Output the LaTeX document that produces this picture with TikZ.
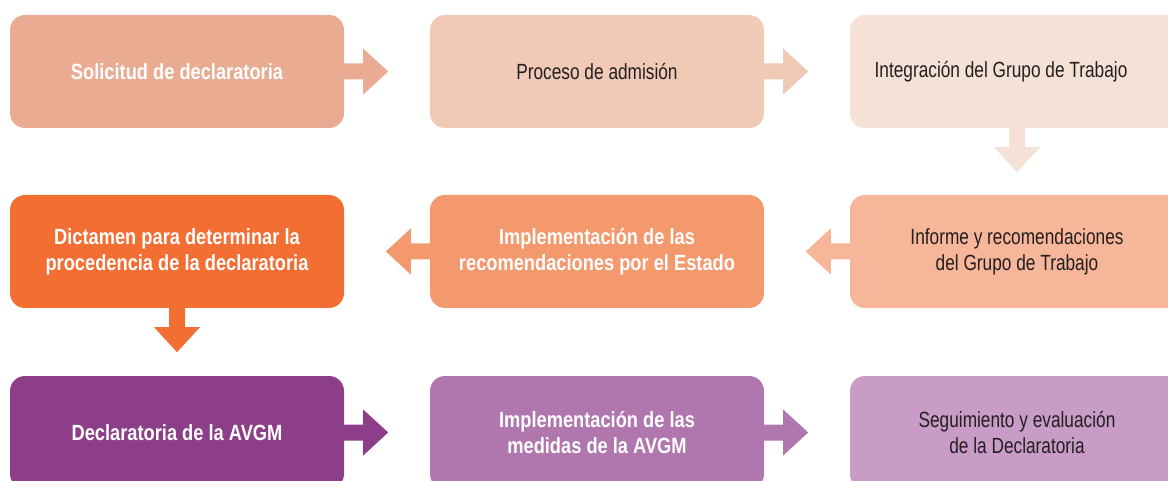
\documentclass[tikz,border=0pt]{standalone}
\usepackage{fontspec}
\setmainfont{Liberation Sans}[FakeStretch=0.785]
\newfontfamily\boldface{Liberation Sans Bold}[FakeStretch=0.83]
\definecolor{cA}{HTML}{E9AB92}
\definecolor{cB}{HTML}{F1C9B7}
\definecolor{cC}{HTML}{F6E1D7}
\definecolor{cD}{HTML}{F7B599}
\definecolor{cE}{HTML}{F4986E}
\definecolor{cF}{HTML}{F26E33}
\definecolor{cG}{HTML}{8D3E89}
\definecolor{cH}{HTML}{B077AE}
\definecolor{cI}{HTML}{C89CC7}
\definecolor{txt}{HTML}{231F20}
\begin{document}
\begin{tikzpicture}[x=1pt,y=-1pt,
  box/.style={rectangle,rounded corners=15pt,minimum width=334pt,minimum height=113pt,
    inner sep=0pt,align=center,font=\fontsize{22}{26}\selectfont},
  boldtxt/.style={text=white,font=\fontsize{22}{26}\selectfont\boldface},
  normtxt/.style={text=txt},
  flowarrow/.pic={\fill (0,-8) -- (19,-8) -- (19,-23) -- (44,0) -- (19,23) -- (19,8) -- (0,8) -- cycle;}
]
\useasboundingbox (0,0) rectangle (1168,481);
% row 1
\node[box,fill=cA,boldtxt] (b11) at (177,71.5) {Solicitud de declaratoria};
\node[box,fill=cB,normtxt] (b12) at (597,71.5) {Proceso de admisión};
\node[box,fill=cC] (b13) at (1017,71.5) {};
\node[normtxt,font=\fontsize{22}{26}\selectfont,inner sep=0pt] (t13) at (1001,71.5) {Integración del Grupo de Trabajo};
% row 2
\node[box,fill=cF,boldtxt] (b21) at (177,251.5) {Dictamen para determinar la\\procedencia de la declaratoria};
\node[box,fill=cE,boldtxt] (b22) at (597,251.5) {Implementación de las\\recomendaciones por el Estado};
\node[box,fill=cD,normtxt] (b23) at (1017,251.5) {Informe y recomendaciones\\del Grupo de Trabajo};
% row 3
\node[box,fill=cG,boldtxt] (b31) at (177,432.5) {Declaratoria de la AVGM};
\node[box,fill=cH,boldtxt] (b32) at (597,432.5) {Implementación de las\\medidas de la AVGM};
\node[box,fill=cI,normtxt] (b33) at (1017,432.5) {Seguimiento y evaluación\\de la Declaratoria};
% arrows
\pic[fill=cA] at (b11.east) {flowarrow};
\pic[fill=cB] at (b12.east) {flowarrow};
\pic[fill=cC,rotate=-90] at (b13.south) {flowarrow};
\pic[fill=cD,rotate=180] at (b23.west) {flowarrow};
\pic[fill=cE,rotate=180] at (b22.west) {flowarrow};
\pic[fill=cF,rotate=-90] at (b21.south) {flowarrow};
\pic[fill=cG] at (b31.east) {flowarrow};
\pic[fill=cH] at (b32.east) {flowarrow};
\end{tikzpicture}
\end{document}
